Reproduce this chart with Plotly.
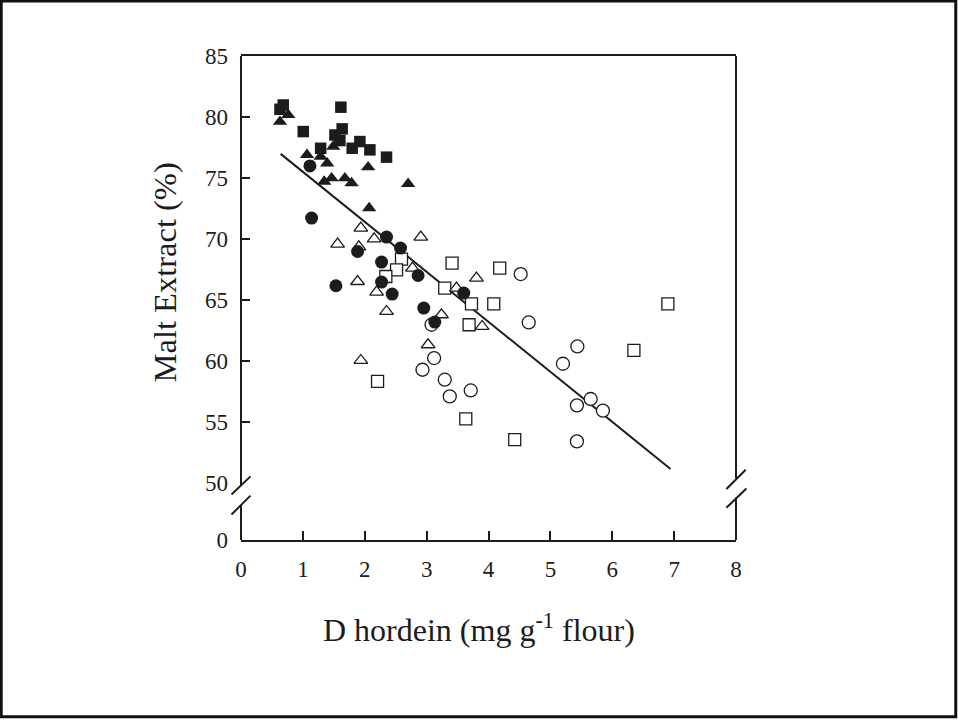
import plotly.graph_objects as go

# ---------------- data ----------------
sq_fill_x = [0.630, 0.683, 1.614, 1.006, 1.635, 1.518, 1.598, 1.797, 1.921, 2.083, 2.352, 1.287]
sq_fill_y = [80.63, 80.98, 80.80, 78.80, 79.02, 78.52, 78.06, 77.43, 77.98, 77.30, 76.70, 77.43]

tri_fill_x = [0.630, 0.764, 1.066, 1.287, 1.393, 1.345, 1.464, 1.679, 1.787, 2.055, 2.701, 2.071, 1.490]
tri_fill_y = [79.61, 80.16, 76.89, 76.75, 76.20, 74.70, 74.98, 74.98, 74.57, 75.88, 74.51, 72.52, 77.57]

circ_fill_x = [1.114, 1.141, 2.352, 2.578, 1.884, 2.272, 2.862, 2.272, 1.534, 2.443, 3.600, 2.954, 3.132]
circ_fill_y = [75.98, 71.70, 70.14, 69.24, 68.96, 68.09, 66.99, 66.45, 66.15, 65.47, 65.55, 64.32, 63.17]

tri_open_x = [1.937, 1.561, 2.152, 2.906, 1.905, 1.884, 2.191, 2.352, 2.772, 3.805, 3.482, 3.240, 3.896, 3.024, 1.937]
tri_open_y = [70.88, 69.57, 70.00, 70.14, 69.34, 66.50, 65.63, 64.04, 67.60, 66.78, 65.96, 63.77, 62.81, 61.31, 60.02]

sq_open_x = [2.594, 2.514, 2.341, 3.411, 4.181, 3.293, 3.725, 4.085, 3.686, 2.207, 6.899, 6.350, 3.633, 4.424]
sq_open_y = [68.34, 67.46, 66.91, 68.01, 67.60, 65.96, 64.67, 64.67, 62.95, 58.30, 64.67, 60.84, 55.22, 53.52]

circ_open_x = [4.520, 4.650, 3.079, 3.121, 2.933, 3.293, 3.713, 3.374, 5.436, 5.203, 5.651, 5.849, 5.429, 5.429]
circ_open_y = [67.11, 63.14, 62.95, 60.22, 59.26, 58.44, 57.56, 57.07, 61.17, 59.75, 56.86, 55.90, 56.34, 53.38]

fit_x = [0.641, 6.942]
fit_y = [76.97, 51.12]

x_ticks = [0, 1, 2, 3, 4, 5, 6, 7, 8]
y_bottom = 45.29
y_label_vals = [y_bottom, 50, 55, 60, 65, 70, 75, 80, 85]
y_label_text = ["0", "50", "55", "60", "65", "70", "75", "80", "85"]
y_tick_marks = [55, 60, 65, 70, 75, 80]

# ---------------- figure ----------------
FONT = "Liberation Serif, Times New Roman, serif"
INK = "#1c1c1c"

fig = go.Figure()

def add_markers(xs, ys, symbol, size, filled):
    fig.add_trace(go.Scatter(
        x=xs, y=ys, mode="markers",
        marker=dict(symbol=symbol, size=size,
                    color=INK if filled else "white",
                    line=dict(color=INK, width=0 if filled else 1.3)),
        showlegend=False, hoverinfo="x+y"))

fig.add_trace(go.Scatter(x=fit_x, y=fit_y, mode="lines",
                         line=dict(color=INK, width=2), showlegend=False))

add_markers(sq_open_x, sq_open_y, "square", 12, False)
add_markers(circ_open_x, circ_open_y, "circle", 13, False)
add_markers(tri_open_x, tri_open_y, "triangle-up", 12, False)
add_markers(circ_fill_x, circ_fill_y, "circle", 13, True)
add_markers(tri_fill_x, tri_fill_y, "triangle-up", 12.5, True)
add_markers(sq_fill_x, sq_fill_y, "square", 11.5, True)

# empty trace so the tick-mark overlay axis is drawn
fig.add_trace(go.Scatter(x=[], y=[], yaxis="y2", showlegend=False))

# broken y-axis lines and break marks
shapes = []
def seg(x0, y0, x1, y1, xref="paper", yref="y"):
    shapes.append(dict(type="line", xref=xref, yref=yref, x0=x0, y0=y0, x1=x1, y1=y1,
                       line=dict(color=INK, width=2)))

# left axis
seg(0, 85, 0, 49.75)
seg(0, 48.16, 0, y_bottom)
seg(-0.0192, 49.02, 0.0192, 50.51)
seg(-0.0192, 47.38, 0.0192, 48.93)
# right axis
seg(1, 85, 1, 50.33)
seg(1, 48.77, 1, y_bottom)
seg(0.9806, 49.48, 1.0196, 51.06)
seg(0.9806, 47.93, 1.021, 49.51)

# page frame (scan border)
shapes.append(dict(type="rect", xref="paper", yref="paper",
                   x0=-0.4844, x1=1.444, y0=-0.3653, y1=1.1135,
                   line=dict(color="#111111", width=3)))

fig.update_layout(
    width=958, height=720,
    margin=dict(l=241, r=221.5, t=56, b=179.5),
    paper_bgcolor="white", plot_bgcolor="white",
    font=dict(family=FONT, color=INK, size=23),
    shapes=shapes,
    xaxis=dict(range=[0, 8], tickvals=x_ticks, ticktext=[str(v) for v in x_ticks],
               ticks="inside", ticklen=9, tickwidth=1.5, tickcolor=INK,
               showline=True, mirror=True, linecolor=INK, linewidth=2,
               showgrid=False, zeroline=False, ticklabelstandoff=7,
               tickfont=dict(family=FONT, size=23, color=INK)),
    yaxis=dict(range=[y_bottom, 85], tickvals=y_label_vals, ticktext=y_label_text,
               ticks="", showline=False, showgrid=False, zeroline=False,
               ticklabelstandoff=12,
               tickfont=dict(family=FONT, size=23, color=INK)),
    yaxis2=dict(range=[y_bottom, 85], overlaying="y", side="left", anchor="x",
                tickvals=y_tick_marks, showticklabels=False,
                ticks="inside", ticklen=9, tickwidth=1.5, tickcolor=INK,
                showline=False, showgrid=False, zeroline=False),
    annotations=[
        dict(text="Malt Extract (%)", xref="paper", yref="paper",
             x=-0.1534, y=0.553, xanchor="center", yanchor="middle",
             textangle=-90, showarrow=False,
             font=dict(family=FONT, size=32.5, color=INK)),
        dict(text="D hordein (mg g<sup>-1</sup> flour)", xref="paper", yref="paper",
             x=0.480, y=-0.1827, xanchor="center", yanchor="middle",
             showarrow=False, font=dict(family=FONT, size=32, color=INK)),
    ],
)

fig.write_html(
    "out.html",
    config={"displayModeBar": False},
    post_script="document.body.style.margin='0';document.body.style.overflow='hidden';",
)
